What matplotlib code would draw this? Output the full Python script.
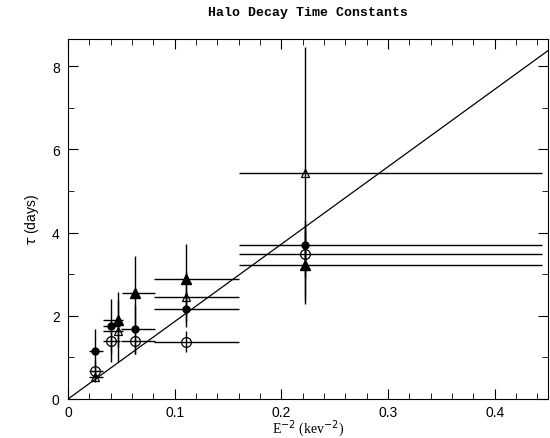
import matplotlib
matplotlib.use("Agg")
import matplotlib.pyplot as plt

# E^-2 positions and tau values
fc_x = [0.025, 0.040, 0.0625, 0.111, 0.222]
fc_y = [1.15, 1.75, 1.67, 2.16, 3.71]
fc_yerr = [0.52, 0.65, 0.60, 0.43, 0.60]
fc_xlo = [0.005, 0.007, 0.013, 0.030, 0.062]
fc_xhi = [0.008, 0.009, 0.019, 0.049, 0.222]

oc_x = [0.025, 0.040, 0.0625, 0.111, 0.222]
oc_y = [0.68, 1.39, 1.39, 1.38, 3.49]
oc_yerr = [0.25, 0.50, 0.30, 0.25, 0.55]
oc_xlo = [0.005, 0.007, 0.013, 0.030, 0.062]
oc_xhi = [0.008, 0.009, 0.019, 0.049, 0.222]

ft_x = [0.047, 0.0625, 0.111, 0.222]
ft_y = [1.91, 2.54, 2.88, 3.23]
ft_yerr = [0.66, 0.90, 0.85, 0.95]
ft_xlo = [0.014, 0.012, 0.030, 0.062]
ft_xhi = [0.005, 0.019, 0.049, 0.222]

ot_x = [0.025, 0.047, 0.111, 0.222]
ot_y = [0.52, 1.64, 2.46, 5.42]
ot_yerr = [0.12, 0.75, 0.60, 3.03]
ot_xlo = [0.005, 0.014, 0.030, 0.062]
ot_xhi = [0.008, 0.005, 0.049, 0.222]

fit_slope = 18.6

fig = plt.figure(figsize=(5.5, 4.39), dpi=100)
ax = fig.add_axes([68 / 550, 39 / 439, 480 / 550, 360 / 439])

ax.axline((0, 0), slope=fit_slope, color='black', lw=0.9)

ax.errorbar(fc_x, fc_y, yerr=fc_yerr, xerr=[fc_xlo, fc_xhi], fmt='o', color='black',
            ms=5, elinewidth=1.0, capsize=0)
ax.errorbar(oc_x, oc_y, yerr=oc_yerr, xerr=[oc_xlo, oc_xhi], fmt='o', color='black',
            mfc='none', ms=7, mew=0.9, elinewidth=1.0, capsize=0)
ax.errorbar(ft_x, ft_y, yerr=ft_yerr, xerr=[ft_xlo, ft_xhi], fmt='^', color='black',
            ms=7, elinewidth=1.0, capsize=0)
ax.errorbar(ot_x, ot_y, yerr=ot_yerr, xerr=[ot_xlo, ot_xhi], fmt='^', color='black',
            mfc='none', ms=6, mew=0.9, elinewidth=1.0, capsize=0)

ax.set_xlim(0, 0.45)
ax.set_ylim(0, 8.65)
ax.set_xticks([0, 0.1, 0.2, 0.3, 0.4])
ax.set_xticklabels(['0', '0.1', '0.2', '0.3', '0.4'])
ax.set_xticks([i * 0.02 for i in range(23)], minor=True)
ax.set_yticks([0, 2, 4, 6, 8])
ax.set_yticks(range(0, 9), minor=True)
ax.tick_params(which='both', direction='in', top=True, right=True,
               labelsize=10)
ax.tick_params(axis='x', pad=4)
ax.tick_params(axis='y', pad=6)
ax.tick_params(which='major', length=7)
ax.tick_params(which='minor', length=4)
for lab in ax.get_xticklabels() + ax.get_yticklabels():
    lab.set_family('Liberation Sans')

ax.set_title('Halo Decay Time Constants', family='Liberation Mono',
             weight='bold', fontsize=9.5, pad=17)
ax.set_xlabel(r'E$^{-2}$ (kev$^{-2}$)', family='Liberation Serif', fontsize=10, labelpad=-1)
ax.set_ylabel(r'$\tau$ (days)', family='Liberation Sans', fontsize=10, labelpad=8)

fig.savefig('out.png', dpi=100)
